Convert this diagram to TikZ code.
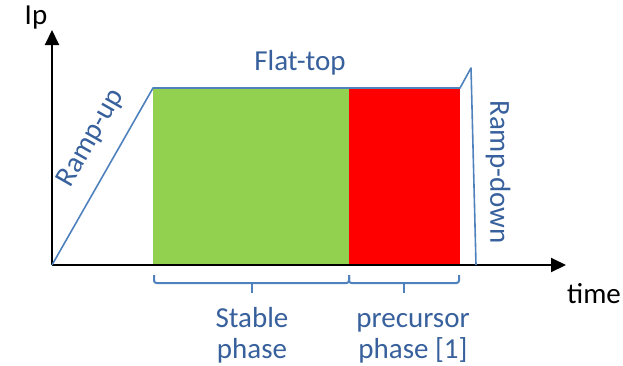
\documentclass[tikz,border=0pt]{standalone}
\usepackage{fontspec}
\setmainfont{Carlito}
\usetikzlibrary{arrows.meta}

\definecolor{lineblue}{HTML}{4F81BD}
\definecolor{textblue}{HTML}{37609C}
\definecolor{stablegreen}{HTML}{92D050}

\tikzset{
  axis/.style={line width=2pt,-{Triangle[length=15pt,width=14pt]}},
  pulse/.style={lineblue,line width=1.6pt,line join=round},
  brace/.style={lineblue,line width=2pt,rounded corners=2.5pt},
  lbl/.style={textblue,font=\fontsize{29}{31}\selectfont,inner sep=0pt},
  axlbl/.style={black,font=\fontsize{29}{31}\selectfont,inner sep=0pt},
}

\begin{document}
\begin{tikzpicture}[x=1pt,y=-1pt]
        \useasboundingbox (0,0) rectangle (623,365);

        % corners
        \coordinate (o) at (52,265);
        \coordinate (ytip) at (52,30);
        \coordinate (xtip) at (566,265);
        \coordinate (topL) at (153,88);
        \coordinate (topM) at (349,88);
        \coordinate (topR) at (460,88);
        \coordinate (peak) at (471,68);
        \coordinate (endR) at (476,265);

        % phases
        \fill[stablegreen] (topL) rectangle (349,265);
        \fill[red] (topM) rectangle (460,265);

        % axes
        \draw[axis] (o) -- (ytip);
        \draw[axis] (o) -- (xtip);

        % plasma current
        \draw[pulse] (o) -- (topL) -- (topR) -- (peak) -- (endR);

        % braces
        \draw[brace] (154,275) -- (154,283) -- (349,283) -- (349,275);
        \draw[brace] (252,283) -- (252,293);
        \draw[brace] (349,275) -- (349,283) -- (459,283) -- (459,275);
        \draw[brace] (404,283) -- (404,293);

        % labels
        \node[axlbl] (ip) at (36,18) {Ip};
        \node[axlbl, anchor=base] (time) at (594,303) {time};
        \node[lbl, anchor=base] (flat) at (300,70) {Flat-top};
        \node[lbl, rotate=60.3] (up) at (91,138) {Ramp-up};
        \node[lbl, rotate=-90] (down) at (498,172) {Ramp-down};
        \node[lbl, anchor=base] (stable) at (252,327) {Stable};
        \node[lbl, anchor=base] (stable2) at (252,358) {phase};
        \node[lbl, anchor=base] (prec) at (413,327) {precursor};
        \node[lbl, anchor=base] (prec2) at (413,358) {phase [1]};
\end{tikzpicture}
\end{document}
